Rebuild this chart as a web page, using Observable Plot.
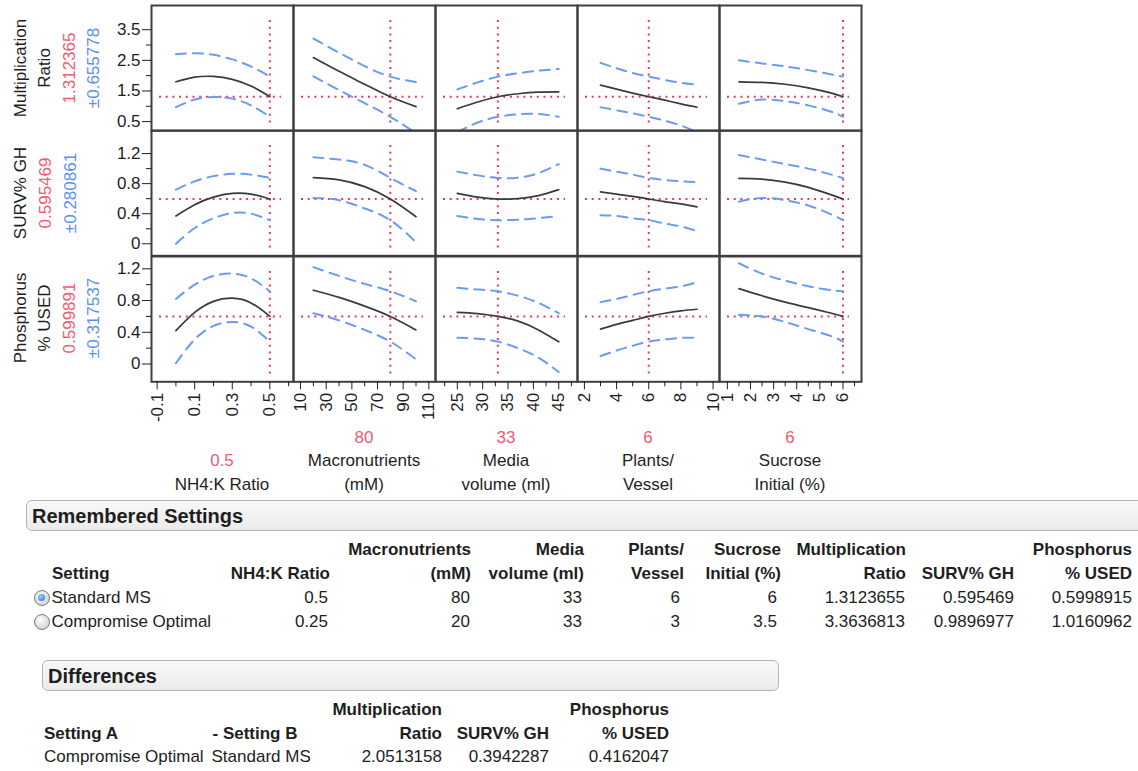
<!DOCTYPE html>
<html>
<head>
<meta charset="utf-8">
<script src="https://cdn.jsdelivr.net/npm/d3@7"></script>
<script src="https://cdn.jsdelivr.net/npm/@observablehq/plot@0.6"></script>
<style>
  body { margin: 0; background: #fff; }
  #page { position: relative; width: 1138px; height: 771px; overflow: hidden;
          font-family: "Liberation Sans", Arial, sans-serif; color: #1e1e1e; }
  .txt { position: absolute; white-space: nowrap; font-size: 17px; line-height: 20px; }
  .rot { position: absolute; white-space: nowrap; font-size: 17px; line-height: 20px;
         transform: translate(-50%, -50%) rotate(-90deg); }
  .bar { position: absolute; box-sizing: border-box; height: 31px; border: 1px solid #b4b4b4;
         border-radius: 6px; background: linear-gradient(#f8f8f8, #ebebeb); }
  .bar span { position: absolute; left: 5px; top: 4px; font-weight: bold; font-size: 20px; line-height: 22px; }
  .radio { position: absolute; width: 16px; height: 16px; border-radius: 50%; box-sizing: border-box;
           border: 1.5px solid #7a7a7a; background: radial-gradient(circle at 40% 35%, #ffffff, #c4c4c4); }
  .radio.on::after { content: ""; position: absolute; left: 3px; top: 3px; width: 7px; height: 7px; border-radius: 50%;
           background: radial-gradient(circle at 40% 35%, #9fd0ff, #1c6cd0); }
  svg.panel { position: absolute; }
</style>
</head>
<body>
<div id="page"></div>
<script>
// ---- Factors (columns) ----
const factorNames = [["NH4:K Ratio"], ["Macronutrients", "(mM)"], ["Media", "volume (ml)"], ["Plants/", "Vessel"], ["Sucrose", "Initial (%)"]];
const currentSettings = [0.5, 80, 33, 6, 6];

// factor levels at which the profile traces are evaluated
const nh4Levels = [0, 0.1, 0.2, 0.3, 0.4, 0.5];
const macroLevels = [20, 40, 60, 80, 100];
const mediaLevels = [25, 29, 33, 37, 41, 45];
const plantLevels = [3, 4, 5, 6, 7, 8, 9];
const sucroseLevels = [1.5, 2.5, 3.5, 4.5, 5.5, 6];

// ---- Responses (rows) ----
const responseNames = [["Multiplication", "Ratio"], ["SURV% GH"], ["Phosphorus", "% USED"]];
const predicted = [1.312365, 0.595469, 0.599891];
const halfWidth = [0.655778, 0.280861, 0.317537];

// profile traces: one array per factor, in factor order
const multiplicationMean = [
  [1.80, 1.95, 1.975, 1.88, 1.66, 1.312],
  [2.59, 2.14, 1.72, 1.312, 0.99],
  [0.92, 1.14, 1.312, 1.41, 1.46, 1.47],
  [1.69, 1.56, 1.43, 1.312, 1.20, 1.08, 0.97],
  [1.80, 1.78, 1.72, 1.60, 1.43, 1.312]
];
const multiplicationUpper = [
  [2.70, 2.73, 2.68, 2.53, 2.30, 1.968],
  [3.21, 2.75, 2.31, 1.968, 1.79],
  [1.55, 1.78, 1.968, 2.08, 2.16, 2.22],
  [2.42, 2.24, 2.09, 1.968, 1.86, 1.77, 1.70],
  [2.50, 2.40, 2.30, 2.18, 2.04, 1.968]
];
const multiplicationLower = [
  [0.97, 1.22, 1.30, 1.25, 1.03, 0.656],
  [1.98, 1.53, 1.10, 0.656, 0.12],
  [0.15, 0.47, 0.656, 0.74, 0.75, 0.66],
  [0.97, 0.87, 0.77, 0.656, 0.53, 0.37, 0.16],
  [1.08, 1.22, 1.17, 1.03, 0.82, 0.656]
];
const survivalMean = [
  [0.37, 0.52, 0.62, 0.67, 0.66, 0.595],
  [0.88, 0.85, 0.76, 0.595, 0.36],
  [0.67, 0.62, 0.595, 0.60, 0.64, 0.72],
  [0.69, 0.66, 0.63, 0.595, 0.56, 0.53, 0.49],
  [0.87, 0.86, 0.82, 0.75, 0.65, 0.595]
];
const survivalUpper = [
  [0.72, 0.83, 0.90, 0.93, 0.92, 0.876],
  [1.15, 1.12, 1.05, 0.876, 0.70],
  [0.96, 0.91, 0.876, 0.88, 0.94, 1.06],
  [1.00, 0.96, 0.92, 0.876, 0.85, 0.83, 0.82],
  [1.18, 1.12, 1.06, 1.00, 0.92, 0.876]
];
const survivalLower = [
  [0.00, 0.21, 0.34, 0.41, 0.40, 0.314],
  [0.61, 0.58, 0.47, 0.314, 0.02],
  [0.37, 0.33, 0.314, 0.32, 0.34, 0.37],
  [0.38, 0.37, 0.34, 0.314, 0.27, 0.23, 0.17],
  [0.56, 0.61, 0.58, 0.51, 0.39, 0.314]
];
const phosphorusMean = [
  [0.42, 0.65, 0.79, 0.83, 0.77, 0.600],
  [0.93, 0.84, 0.73, 0.600, 0.43],
  [0.65, 0.635, 0.600, 0.54, 0.43, 0.28],
  [0.44, 0.50, 0.55, 0.600, 0.64, 0.67, 0.69],
  [0.95, 0.86, 0.78, 0.71, 0.64, 0.600]
];
const phosphorusUpper = [
  [0.82, 1.00, 1.11, 1.14, 1.08, 0.917],
  [1.22, 1.11, 1.01, 0.917, 0.79],
  [0.96, 0.94, 0.917, 0.86, 0.77, 0.64],
  [0.78, 0.82, 0.87, 0.917, 0.95, 0.98, 1.03],
  [1.27, 1.14, 1.05, 0.98, 0.93, 0.917]
];
const phosphorusLower = [
  [0.01, 0.31, 0.48, 0.53, 0.47, 0.282],
  [0.64, 0.55, 0.43, 0.282, 0.06],
  [0.33, 0.32, 0.282, 0.20, 0.08, -0.10],
  [0.10, 0.17, 0.23, 0.282, 0.31, 0.33, 0.33],
  [0.62, 0.60, 0.53, 0.44, 0.35, 0.282]
];

// ---- Axis ticks ----
const yTicksMajor = [[0.5, 1.5, 2.5, 3.5], [0, 0.4, 0.8, 1.2], [0, 0.4, 0.8, 1.2]];
const yTicksMinor = [[1, 2, 3], [0.2, 0.6, 1.0], [0.2, 0.6, 1.0]];
const xTicksMajor = [[-0.1, 0.1, 0.3, 0.5], [10, 30, 50, 70, 90, 110], [25, 30, 35, 40, 45], [2, 4, 6, 8, 10], [1, 2, 3, 4, 5, 6]];
const xTicksMinor = [[0, 0.2, 0.4, 0.6], [20, 40, 60, 80, 100], [22.5, 27.5, 32.5, 37.5, 42.5, 47.5], [3, 5, 7, 9], [1.5, 2.5, 3.5, 4.5, 5.5, 6.5]];

// ---- Remembered settings / differences tables ----
const rememberedHeaders = [["", "NH4:K Ratio"], ["Macronutrients", "(mM)"], ["Media", "volume (ml)"], ["Plants/", "Vessel"],
  ["Sucrose", "Initial (%)"], ["Multiplication", "Ratio"], ["", "SURV% GH"], ["Phosphorus", "% USED"]];
const rememberedNames = ["Standard MS", "Compromise Optimal"];
const rememberedValues = [
  ["0.5", "80", "33", "6", "6", "1.3123655", "0.595469", "0.5998915"],
  ["0.25", "20", "33", "3", "3.5", "3.3636813", "0.9896977", "1.0160962"]
];
const differenceHeaders = [["Multiplication", "Ratio"], ["", "SURV% GH"], ["Phosphorus", "% USED"]];
const differencePair = ["Compromise Optimal", "Standard MS"];
const differenceValues = ["2.0513158", "0.3942287", "0.4162047"];

// ---- Layout & styling ----
const page = document.getElementById("page");
const levels = [nh4Levels, macroLevels, mediaLevels, plantLevels, sucroseLevels];
const means = [multiplicationMean, survivalMean, phosphorusMean];
const uppers = [multiplicationUpper, survivalUpper, phosphorusUpper];
const lowers = [multiplicationLower, survivalLower, phosphorusLower];

const xDomains = [[-0.13, 0.626], [4.5, 115.2], [20.7, 48.7], [1.57, 10.4], [0.66, 6.8]];
const yDomains = [[0.2, 4.29], [-0.16, 1.507], [-0.224, 1.355]];

const gridLeft = 151, gridTop = 5, cellW = 142, cellH = 125.3;
const axisLeft = 60, axisBottom = 48;
const redLine = "#ec3a55", redText = "#f25a70";
const blueLine = "#6a9bf4", blueText = "#5a8ff2";
const inkColor = "#1e1e1e";

function panel(r, c) {
  const rows = levels[c].map((x, i) => ({x, mean: means[r][c][i], upper: uppers[r][c][i], lower: lowers[r][c][i]}));
  const ml = c === 0 ? axisLeft : 0;
  const mb = r === 2 ? axisBottom : 0;
  const marks = [
    Plot.ruleY([predicted[r]], {stroke: redLine, strokeWidth: 2, strokeDasharray: "2,4.7", insetLeft: 8, insetRight: 12}),
    Plot.ruleX([currentSettings[c]], {stroke: redLine, strokeWidth: 2, strokeDasharray: "2,4.7", insetTop: 15, insetBottom: 6}),
    Plot.line(rows, {x: "x", y: "upper", stroke: blueLine, strokeWidth: 2, strokeDasharray: "10,7", curve: "natural", clip: true}),
    Plot.line(rows, {x: "x", y: "lower", stroke: blueLine, strokeWidth: 2, strokeDasharray: "10,7", curve: "natural", clip: true}),
    Plot.line(rows, {x: "x", y: "mean", stroke: "#3a3a3a", strokeWidth: 1.7, curve: "natural", clip: true}),
    Plot.frame({stroke: "#3f3f3f", strokeWidth: 2})
  ];
  if (c === 0) {
    marks.push(
      Plot.axisY(yTicksMajor[r], {tickSize: 9, tickPadding: 2, label: null, tickFormat: d => String(d)}),
      Plot.axisY(yTicksMinor[r], {tickSize: 5, label: null, tickFormat: () => ""})
    );
  }
  if (r === 2) {
    marks.push(
      Plot.axisX(xTicksMajor[c], {tickSize: 8, tickPadding: 3, tickRotate: -90, label: null, tickFormat: d => String(d)}),
      Plot.axisX(xTicksMinor[c], {tickSize: 5, label: null, tickFormat: () => ""})
    );
  }
  const svg = Plot.plot({
    width: cellW + ml,
    height: cellH + mb,
    marginTop: 0, marginRight: 0, marginLeft: ml, marginBottom: mb,
    x: {domain: xDomains[c], axis: null},
    y: {domain: yDomains[r], axis: null},
    style: {background: "transparent", overflow: "visible", fontFamily: "Liberation Sans, Arial, sans-serif",
            fontSize: "17px", color: inkColor, maxWidth: "none"},
    marks
  });
  svg.classList.add("panel");
  svg.style.left = (gridLeft + c * cellW - ml) + "px";
  svg.style.top = (gridTop + r * cellH) + "px";
  page.appendChild(svg);
}

for (let r = 0; r < 3; r++) for (let c = 0; c < 5; c++) panel(r, c);

function text(str, x, yc, align, opts = {}) {
  const el = document.createElement("div");
  el.className = "txt";
  el.textContent = str;
  el.style.left = x + "px";
  el.style.top = (yc - 10) + "px";
  if (align === "right") el.style.transform = "translateX(-100%)";
  if (align === "center") el.style.transform = "translateX(-50%)";
  if (opts.bold) el.style.fontWeight = "bold";
  if (opts.color) el.style.color = opts.color;
  page.appendChild(el);
  return el;
}
function rotated(str, x, yc, color) {
  const el = document.createElement("div");
  el.className = "rot";
  el.textContent = str;
  el.style.left = x + "px";
  el.style.top = yc + "px";
  el.style.color = color;
  page.appendChild(el);
}

// response labels on the left: name, predicted value, interval half-width
const labelCols = [20.7, 45, 68.5, 94.3];
responseNames.forEach((name, r) => {
  const yc = gridTop + (r + 0.5) * cellH;
  const lines = [...name.map(s => [s, inkColor]),
    [String(predicted[r]), redText], ["\u00b1" + String(halfWidth[r]), blueText]];
  const step = name.length === 1 ? 25.3 : 24.5;
  lines.forEach(([s, col], i) => rotated(s, labelCols[0] + i * step, yc, col));
});

// factor labels below: current setting and name
factorNames.forEach((name, c) => {
  const xc = gridLeft + (c + 0.5) * cellW;
  const lines = [[String(currentSettings[c]), redText], ...name.map(s => [s, inkColor])];
  const bottom = 485;
  lines.forEach(([s, col], i) => text(s, xc, bottom - (lines.length - 1 - i) * 23.7, "center", {color: col}));
});

// ---- Remembered Settings table ----
function bar(title, left, top, width) {
  const el = document.createElement("div");
  el.className = "bar";
  el.style.left = left + "px";
  el.style.top = top + "px";
  el.style.width = width + "px";
  const s = document.createElement("span");
  s.textContent = title;
  el.appendChild(s);
  page.appendChild(el);
}
bar("Remembered Settings", 26, 500, 1130);
const rememberedHeadRight = [330, 471, 584, 684, 781, 906, 1014, 1132];
const rememberedValRight = [328, 470, 582, 680, 777, 905, 1014, 1132];
const rememberedRows = [550, 574, 598, 622];
text("Setting", 52, rememberedRows[1], "left", {bold: true});
rememberedHeaders.forEach((h, j) => {
  h.forEach((s, k) => { if (s) text(s, rememberedHeadRight[j], rememberedRows[k], "right", {bold: true}); });
});
rememberedNames.forEach((name, i) => {
  const yc = rememberedRows[2 + i];
  const radio = document.createElement("div");
  radio.className = "radio" + (i === 0 ? " on" : "");
  radio.style.left = "33.5px";
  radio.style.top = (yc - 8) + "px";
  page.appendChild(radio);
  text(name, 51.5, yc, "left");
  rememberedValues[i].forEach((v, j) => text(v, rememberedValRight[j], yc, "right"));
});

// ---- Differences table ----
bar("Differences", 42, 660, 737);
const diffRows = [710, 734, 757];
text("Setting A", 44, diffRows[1], "left", {bold: true});
text("- Setting B", 212.5, diffRows[1], "left", {bold: true});
const diffRight = [442, 549, 669];
differenceHeaders.forEach((h, j) => {
  h.forEach((s, k) => { if (s) text(s, diffRight[j], diffRows[k], "right", {bold: true}); });
});
text(differencePair[0], 44, diffRows[2], "left");
text(differencePair[1], 211.5, diffRows[2], "left");
differenceValues.forEach((v, j) => text(v, diffRight[j], diffRows[2], "right"));
</script>
</body>
</html>
